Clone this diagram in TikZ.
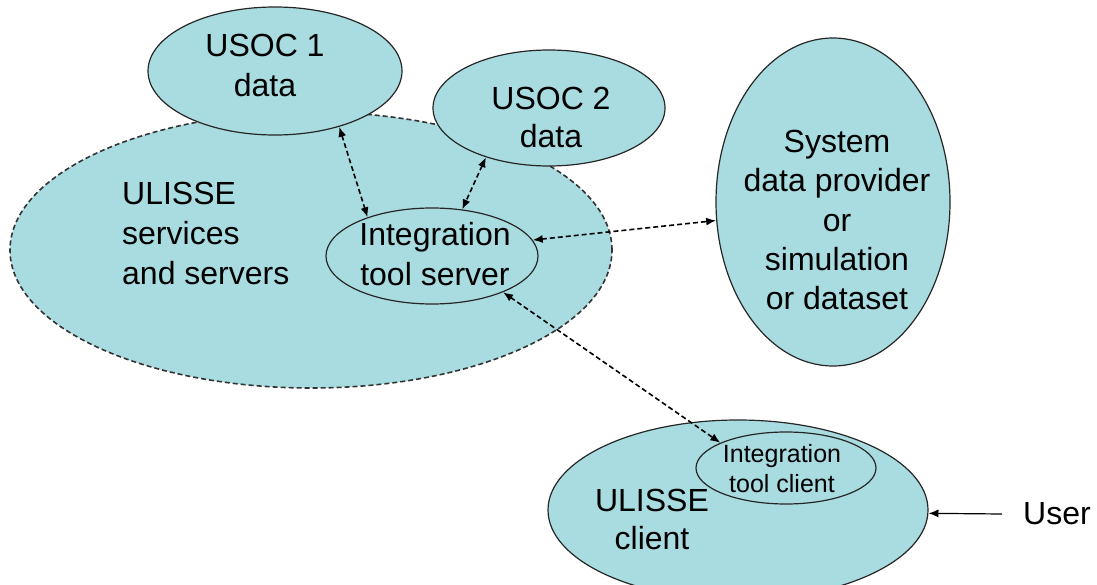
\documentclass[tikz,border=0pt]{standalone}
\usepackage{fontspec}
\setmainfont{Liberation Sans}
\usetikzlibrary{shapes.geometric,arrows.meta}
\definecolor{fillc}{RGB}{168,220,224}
\begin{document}
\begin{tikzpicture}[x=1pt,y=-1pt,
  blob/.style={ellipse,draw=black!85,line width=1.2pt,fill=fillc,inner sep=0pt},
  lbl/.style={font=\fontsize{32}{40}\selectfont,align=center,inner sep=0pt},
  smalllbl/.style={font=\fontsize{25}{30}\selectfont,align=center,inner sep=0pt},
  link/.style={line width=1.6pt,dash pattern=on 5pt off 3pt,{Latex[length=10pt,width=8pt]}-{Latex[length=10pt,width=8pt]}},
  solidlink/.style={line width=1.2pt,-{Latex[length=10pt,width=8pt]}},
]
\useasboundingbox (0,0) rectangle (1097,585);
% big dashed region
\node[blob,draw=black!80,dash pattern=on 5pt off 3pt,line width=1.6pt,minimum width=602pt,minimum height=276pt] (uls) at (311,250) {};
% ellipses
\node[blob,minimum width=254pt,minimum height=128pt] (usoc1) at (275,71) {};
\node[blob,minimum width=232pt,minimum height=116pt] (usoc2) at (549,108) {};
\node[blob,minimum width=212pt,minimum height=96pt] (server) at (432,256) {};
\node[blob,minimum width=234pt,minimum height=328pt] (system) at (833,202) {};
\node[blob,minimum width=380pt,minimum height=180pt] (client) at (738,510) {};
\node[blob,minimum width=180pt,minimum height=72pt] (itc) at (786,468) {};
% texts
\node[lbl] (t1) at (265,65.5) {USOC 1\\data};
\node[lbl,font=\fontsize{32}{38}\selectfont] (t2) at (551,117.5) {USOC 2\\data};
\node[lbl,align=left,anchor=west] (tuls) at (122,233.5) {ULISSE\\services\\and servers};
\node[lbl] (tserver) at (435,254.5) {Integration\\tool server};
\node[lbl,font=\fontsize{32}{39.3}\selectfont] (tsystem) at (837,220) {System\\data provider\\or\\simulation\\or dataset};
\node[smalllbl] (titc) at (782,469) {Integration\\tool client};
\node[lbl,font=\fontsize{32}{38}\selectfont] (tclient) at (652,519.5) {ULISSE\\client};
\node[lbl,inner xsep=21pt] (user) at (1057,514) {User};
% connectors
\draw[link] (usoc1.-41) -- (server.149);
\draw[link] (usoc2.-142) -- (server.57);
\draw[link] (server.9) -- (system.-171);
\draw[link] (server.-27) -- (itc.159);
\draw[solidlink] (user.west) -- (client.-1.5);
\end{tikzpicture}
\end{document}
